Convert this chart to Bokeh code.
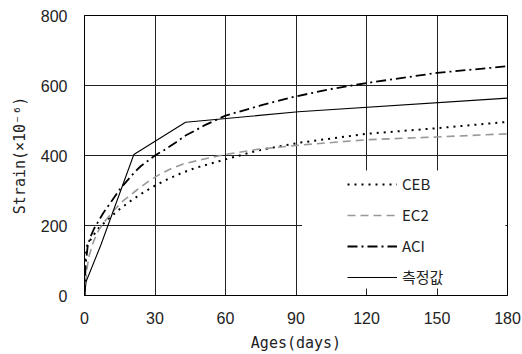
from bokeh.plotting import figure
from bokeh.models import Range1d, FixedTicker, Legend, LegendItem, BoxAnnotation
from bokeh.embed import file_html
from bokeh.resources import INLINE

# ---- data ----
x_ticks = [0, 30, 60, 90, 120, 150, 180]
y_ticks = [0, 200, 400, 600, 800]

ceb_t = [0, 0.3, 1, 3, 6, 10, 15, 20, 25, 30, 35, 41, 47, 60, 73, 82, 92, 120, 150, 180]
ceb_v = [0, 100, 140, 165, 192, 218, 247, 272, 294, 314, 331, 349, 364, 389, 413, 425, 437, 462, 478, 496]

ec2_t = [0, 1, 2, 4, 6, 9, 12.5, 16, 22, 28, 32, 37, 42, 51, 60, 73, 92, 120, 150, 180]
ec2_v = [0, 75, 115, 157, 186, 215, 243, 268, 300, 330, 346, 363, 376, 390, 403, 417, 430, 445, 453, 462]

aci_t = [0, 0.5, 1.4, 2.5, 4, 6.8, 8.2, 11.8, 15, 18, 21, 24, 30, 34, 39, 43, 47, 51, 60, 75, 90, 105, 120, 150, 180]
aci_v = [0, 90, 143, 167, 190, 222, 238, 272, 303, 327, 350, 370, 400, 416, 438, 457, 471, 486, 514, 543, 569, 590, 607, 636, 655]

meas_t = [0, 0.7, 7, 21, 43, 91, 180]
meas_v = [0, 40, 145, 403, 495, 525, 564]

labels = ["CEB", "EC2", "ACI", "측정값"]

p = figure(width=522, height=354, output_backend="svg", toolbar_location=None,
           x_range=Range1d(0, 180), y_range=Range1d(0, 800),
           min_border_left=84, min_border_right=15, min_border_top=15, min_border_bottom=59)

p.background_fill_color = "white"
p.border_fill_color = "white"
p.outline_line_color = "black"
p.outline_line_width = 1
p.outline_line_alpha = 1

# axes
p.xaxis.ticker = FixedTicker(ticks=x_ticks)
p.yaxis.ticker = FixedTicker(ticks=y_ticks)
for ax in (p.xaxis[0], p.yaxis[0]):
    ax.axis_line_color = "black"
    ax.major_tick_in = 0
    ax.major_tick_out = 0
    ax.minor_tick_line_color = None
    ax.major_label_text_font = "Liberation Sans"
    ax.major_label_text_font_size = "16px"
    ax.major_label_text_color = "#222222"
    ax.axis_label_text_font = "DejaVu Sans Mono"
    ax.axis_label_text_font_size = "15px"
    ax.axis_label_text_font_style = "normal"
    ax.axis_label_text_color = "#222222"
p.xaxis.axis_label = "Ages(days)"
p.yaxis.axis_label = "Strain(×10⁻⁶)"
p.xaxis.major_label_standoff = 16
p.yaxis.major_label_standoff = 17
p.xaxis.axis_label_standoff = 7
p.yaxis.axis_label_standoff = 9

# grid
p.xgrid.ticker = FixedTicker(ticks=[30, 60, 90, 120, 150])
p.ygrid.ticker = FixedTicker(ticks=[200, 400, 600])
for g in (p.xgrid[0], p.ygrid[0]):
    g.grid_line_color = "#222222"
    g.grid_line_alpha = 1
    g.grid_line_width = 1

# curves
r_ceb = p.line(ceb_t, ceb_v, line_color="black", line_width=2, line_dash="2 5")
r_ec2 = p.line(ec2_t, ec2_v, line_color="#999999", line_width=1.6, line_dash="8 5")
r_aci = p.line(aci_t, aci_v, line_color="black", line_width=1.8, line_dash="10 4 2 4")
r_meas = p.line(meas_t, meas_v, line_color="black", line_width=1.1)

# white legend area (covers grid lines)
box = BoxAnnotation(left=92.6, right=179.1, bottom=20, top=357,
                    fill_color="white", fill_alpha=1, line_alpha=0)
p.add_layout(box)

legend = Legend(items=[LegendItem(label=labels[0], renderers=[r_ceb]),
                       LegendItem(label=labels[1], renderers=[r_ec2]),
                       LegendItem(label=labels[2], renderers=[r_aci]),
                       LegendItem(label=labels[3], renderers=[r_meas])],
                location=(261, 6), glyph_width=50, glyph_height=20, label_height=20,
                spacing=10, padding=2, label_standoff=5, margin=0,
                background_fill_alpha=0, border_line_alpha=0,
                label_text_font="Noto Sans CJK KR", label_text_font_size="15px",
                label_text_color="#222222")
p.add_layout(legend)

open("out.html", "w").write(file_html(p, INLINE))
